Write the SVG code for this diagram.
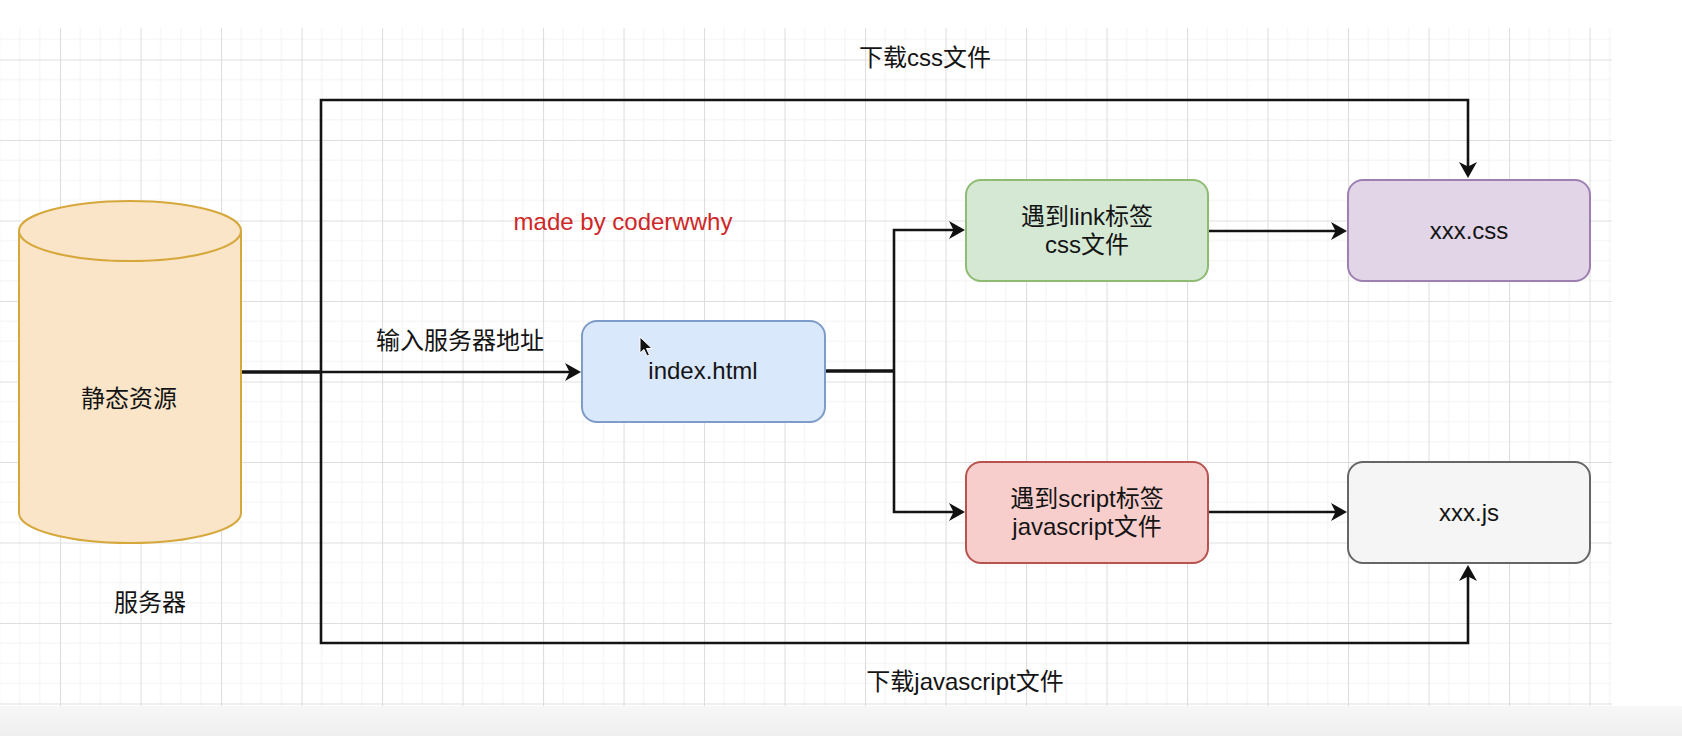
<svg xmlns="http://www.w3.org/2000/svg" width="1682" height="736" viewBox="0 0 1682 736">
  <defs>
    <pattern id="grid" patternUnits="userSpaceOnUse" x="60" y="59.5" width="80.5" height="80.5">
      <path d="M20.125,0 V80.5 M40.25,0 V80.5 M60.375,0 V80.5 M0,20.125 H80.5 M0,40.25 H80.5 M0,60.375 H80.5" stroke="#f4f4f4" stroke-width="1" fill="none"/>
      <path d="M0.5,0 V80.5 M0,0.5 H80.5" stroke="#dedede" stroke-width="1.2" fill="none"/>
    </pattern>
    <linearGradient id="band" x1="0" y1="0" x2="0" y2="1">
      <stop offset="0" stop-color="#f7f7f7"/>
      <stop offset="1" stop-color="#efefef"/>
    </linearGradient>
    <marker id="arrow" markerUnits="userSpaceOnUse" markerWidth="18" markerHeight="20" viewBox="0 0 18 20" refX="10" refY="10" orient="auto">
      <path d="M1,1 L17,10 L1,19 L5.5,10 Z" fill="#111"/>
    </marker>
  </defs>
  <style>
    .t { font-family: "Liberation Sans", "Noto Sans CJK SC", sans-serif; font-size: 24px; fill: #141414; text-anchor: middle; }
    .red { fill: #cf2727; }
    .edge { fill: none; stroke: #141414; stroke-width: 2.6; }
    .shared { fill: none; stroke: #141414; stroke-width: 3.4; }
    .box { stroke-width: 2; }
  </style>

  <rect x="0" y="0" width="1682" height="736" fill="#ffffff"/>
  <rect x="0" y="28" width="1612" height="678" fill="url(#grid)"/>
  <rect x="0" y="706" width="1682" height="30" fill="url(#band)"/>

  <g id="connectors">
    <path class="edge" d="M321,372 H574" marker-end="url(#arrow)"/>
    <path class="edge" d="M321,372 V100 H1468 V171" marker-end="url(#arrow)"/>
    <path class="edge" d="M321,372 V643 H1468 V572" marker-end="url(#arrow)"/>
    <path class="shared" d="M241,372 H321"/>
    <path class="shared" d="M825,371 H894"/>
    <path class="edge" d="M894,371 V230 H958" marker-end="url(#arrow)"/>
    <path class="edge" d="M894,371 V512 H958" marker-end="url(#arrow)"/>
    <path class="edge" d="M1208,231 H1340" marker-end="url(#arrow)"/>
    <path class="edge" d="M1208,512 H1340" marker-end="url(#arrow)"/>
  </g>

  <g id="server">
    <path d="M19,231 V513 A111,30 0 0 0 241,513 V231" fill="#fae5c9" stroke="#d6a83c" stroke-width="2"/>
    <ellipse cx="130" cy="231" rx="111" ry="30" fill="#fae5c9" stroke="#d6a83c" stroke-width="2"/>
    <text class="t" x="129" y="407">静态资源</text>
  </g>

  <g id="server-label">
    <text class="t" x="150" y="611">服务器</text>
  </g>

  <g id="label-input">
    <text class="t" x="460" y="349">输入服务器地址</text>
  </g>

  <g id="label-made">
    <text class="t red" x="623" y="230">made by coderwwhy</text>
  </g>

  <g id="label-css-download">
    <text class="t" x="925" y="66">下载css文件</text>
  </g>

  <g id="label-js-download">
    <text class="t" x="965" y="690">下载javascript文件</text>
  </g>

  <g id="index-html">
    <rect class="box" x="582" y="321" width="243" height="101" rx="15" fill="#dae8fc" stroke="#7d9cc8"/>
    <text class="t" x="703" y="379">index.html</text>
    <path d="M640,337 L640,353 L644,349.5 L647,356 L649.5,355 L646.5,348.5 L652,348.5 Z" fill="#111" stroke="#ffffff" stroke-width="1"/>
  </g>

  <g id="link-tag">
    <rect class="box" x="966" y="180" width="242" height="101" rx="15" fill="#d5e8d4" stroke="#8dbb72"/>
    <text class="t" x="1087" y="225">遇到link标签</text>
    <text class="t" x="1087" y="253">css文件</text>
  </g>

  <g id="script-tag">
    <rect class="box" x="966" y="462" width="242" height="101" rx="15" fill="#f8cecc" stroke="#b85450"/>
    <text class="t" x="1087" y="507">遇到script标签</text>
    <text class="t" x="1087" y="535">javascript文件</text>
  </g>

  <g id="xxx-css">
    <rect class="box" x="1348" y="180" width="242" height="101" rx="15" fill="#e1d5e7" stroke="#9d80b0"/>
    <text class="t" x="1469" y="239">xxx.css</text>
  </g>

  <g id="xxx-js">
    <rect class="box" x="1348" y="462" width="242" height="101" rx="15" fill="#f5f5f5" stroke="#666666"/>
    <text class="t" x="1469" y="521">xxx.js</text>
  </g>
</svg>
